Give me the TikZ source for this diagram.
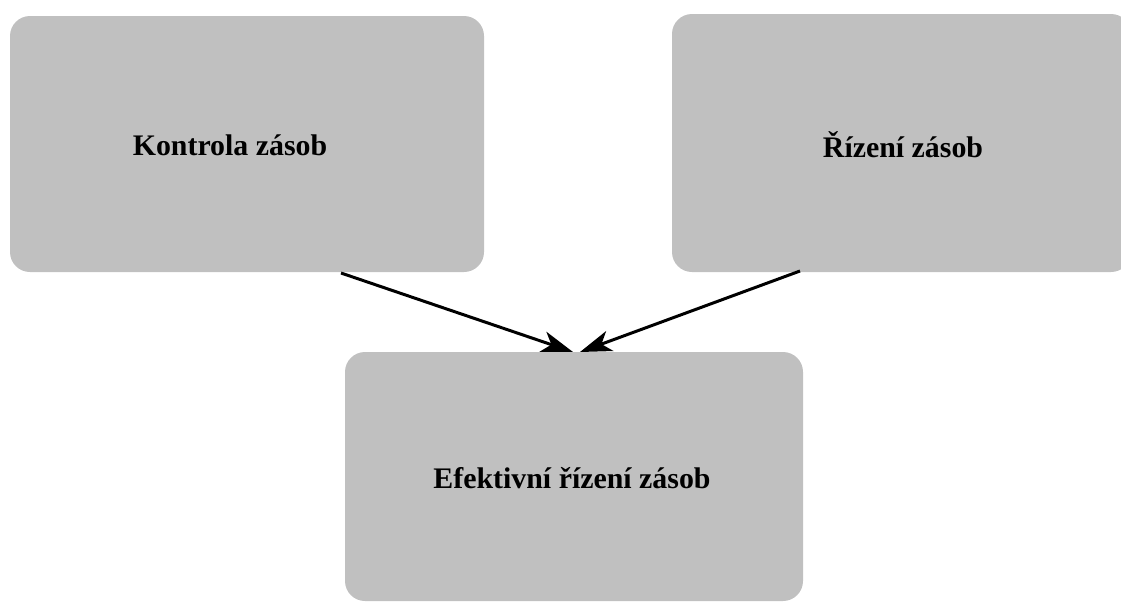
\documentclass[tikz,border=0pt]{standalone}
\usepackage{fontspec}
\setmainfont{Liberation Serif}
\usetikzlibrary{arrows.meta}
\definecolor{boxgray}{RGB}{192,192,192}
\tikzset{
  box/.style={fill=boxgray, rounded corners=0.4cm},
  lbl/.style={font=\fontsize{17}{19}\selectfont\bfseries, text=black},
  conn/.style={line width=1.7pt, -{Stealth[length=18pt,width=12pt,inset=5pt]}}
}
\begin{document}
\begin{tikzpicture}[x=0.02cm,y=-0.02cm]
\useasboundingbox (0,0) rectangle (1121,602);
\fill[box] (10,16) rectangle (484,272);
\fill[box] (672,14) rectangle (1131,272);
\fill[box] (345,352) rectangle (803,601);
\node[lbl] (a) at (230,145) {Kontrola zásob};
\node[lbl] (b) at (903,145) {Řízení zásob};
\node[lbl] (c) at (572,478) {Efektivní řízení zásob};
\coordinate (as) at (341,273);
\coordinate (bs) at (800,271);
\coordinate (at) at (573,352);
\coordinate (bt) at (580,352);
\draw[conn] (as) -- (at);
\draw[conn] (bs) -- (bt);
\end{tikzpicture}
\end{document}
